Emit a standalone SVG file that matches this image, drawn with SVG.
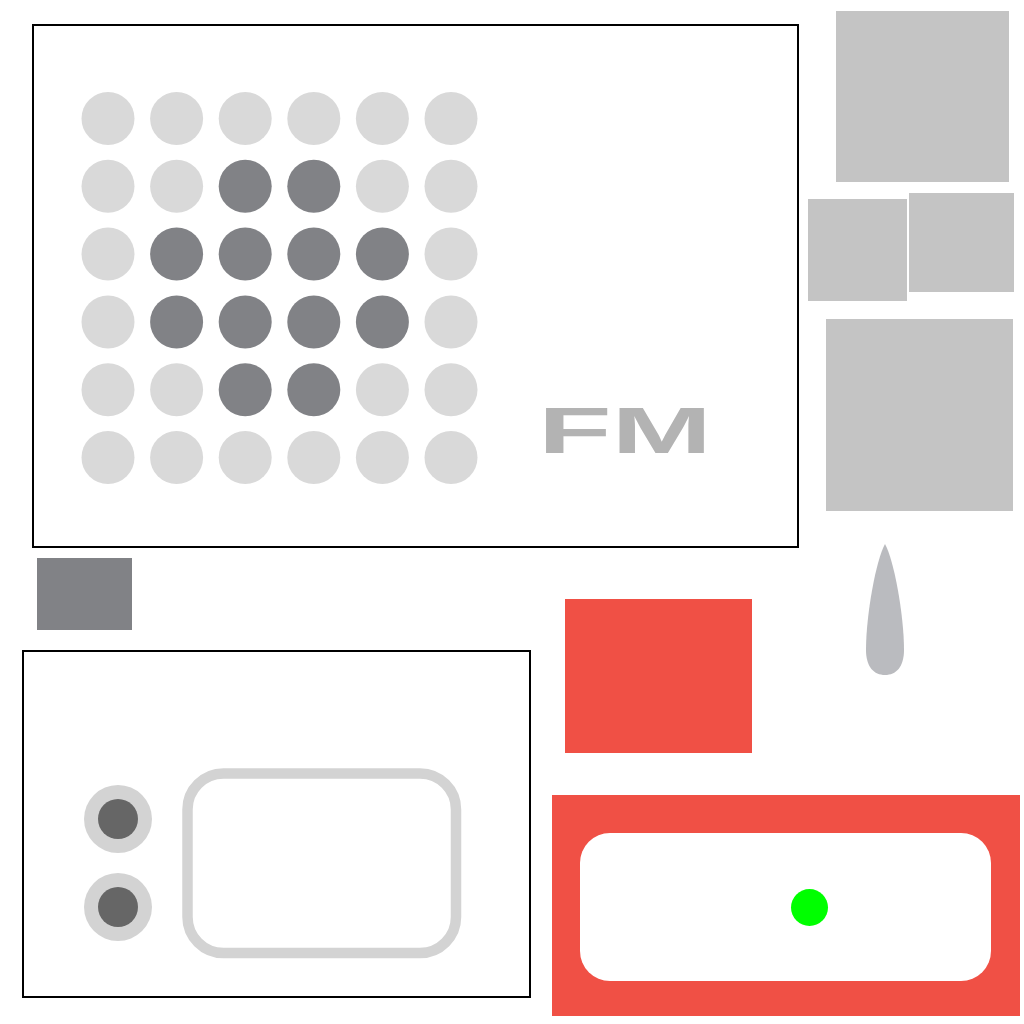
<svg xmlns="http://www.w3.org/2000/svg" width="1024" height="1024" viewBox="0 0 1024 1024">
<style>
.frame{fill:#fff;stroke:#000;stroke-width:2}
.lt{fill:#d9d9d9}
.dk{fill:#818286}
.pad{fill:#c4c4c4}
.red{fill:#f05045}
.fm{font-family:"Liberation Sans",Arial,sans-serif;font-weight:bold;fill:#b3b3b3}
</style>
<rect width="1024" height="1024" fill="#fff"/>
<g id="main-panel">
<rect class="frame" x="33" y="25" width="765" height="522"/>
<g id="dots">
<circle class="lt" cx="108" cy="118.5" r="26.5"/><circle class="lt" cx="176.6" cy="118.5" r="26.5"/><circle class="lt" cx="245.2" cy="118.5" r="26.5"/><circle class="lt" cx="313.8" cy="118.5" r="26.5"/><circle class="lt" cx="382.4" cy="118.5" r="26.5"/><circle class="lt" cx="451" cy="118.5" r="26.5"/>
<circle class="lt" cx="108" cy="186.3" r="26.5"/><circle class="lt" cx="176.6" cy="186.3" r="26.5"/><circle class="dk" cx="245.2" cy="186.3" r="26.5"/><circle class="dk" cx="313.8" cy="186.3" r="26.5"/><circle class="lt" cx="382.4" cy="186.3" r="26.5"/><circle class="lt" cx="451" cy="186.3" r="26.5"/>
<circle class="lt" cx="108" cy="254.1" r="26.5"/><circle class="dk" cx="176.6" cy="254.1" r="26.5"/><circle class="dk" cx="245.2" cy="254.1" r="26.5"/><circle class="dk" cx="313.8" cy="254.1" r="26.5"/><circle class="dk" cx="382.4" cy="254.1" r="26.5"/><circle class="lt" cx="451" cy="254.1" r="26.5"/>
<circle class="lt" cx="108" cy="321.9" r="26.5"/><circle class="dk" cx="176.6" cy="321.9" r="26.5"/><circle class="dk" cx="245.2" cy="321.9" r="26.5"/><circle class="dk" cx="313.8" cy="321.9" r="26.5"/><circle class="dk" cx="382.4" cy="321.9" r="26.5"/><circle class="lt" cx="451" cy="321.9" r="26.5"/>
<circle class="lt" cx="108" cy="389.7" r="26.5"/><circle class="lt" cx="176.6" cy="389.7" r="26.5"/><circle class="dk" cx="245.2" cy="389.7" r="26.5"/><circle class="dk" cx="313.8" cy="389.7" r="26.5"/><circle class="lt" cx="382.4" cy="389.7" r="26.5"/><circle class="lt" cx="451" cy="389.7" r="26.5"/>
<circle class="lt" cx="108" cy="457.5" r="26.5"/><circle class="lt" cx="176.6" cy="457.5" r="26.5"/><circle class="lt" cx="245.2" cy="457.5" r="26.5"/><circle class="lt" cx="313.8" cy="457.5" r="26.5"/><circle class="lt" cx="382.4" cy="457.5" r="26.5"/><circle class="lt" cx="451" cy="457.5" r="26.5"/>
</g>
<text class="fm" x="538" y="453" font-size="64" textLength="174" lengthAdjust="spacingAndGlyphs">FM</text>
</g>
<g id="grey-pads">
<rect class="pad" x="836" y="11" width="173" height="171"/>
<rect class="pad" x="808" y="199" width="99" height="102"/>
<rect class="pad" x="909" y="193" width="105" height="99"/>
<rect class="pad" x="826" y="319" width="187" height="192"/>
</g>
<g id="teardrop">
<path d="M885,544 C894,560 904,615 904,650 C904,667 896,675 885,675 C874,675 866,667 866,650 C866,615 876,560 885,544 Z" fill="#babbbf"/>
</g>
<rect id="dark-swatch" x="37" y="558" width="95" height="72" fill="#818286"/>
<g id="lower-panel">
<rect class="frame" x="23" y="651" width="507" height="346"/>
<circle cx="118" cy="819" r="34" fill="#d3d3d3"/>
<circle cx="118" cy="819" r="20" fill="#666"/>
<circle cx="118" cy="907" r="34" fill="#d3d3d3"/>
<circle cx="118" cy="907" r="20" fill="#666"/>
<rect x="187.5" y="773.5" width="268.5" height="179.5" rx="36" fill="none" stroke="#d3d3d3" stroke-width="10.5"/>
</g>
<rect id="red-block" class="red" x="565" y="599" width="187" height="154"/>
<g id="red-panel">
<rect class="red" x="552" y="795" width="468" height="221"/>
<rect x="580" y="833" width="411" height="148" rx="30" fill="#fff"/>
<circle cx="809.5" cy="907.5" r="18.5" fill="#00ff00"/>
</g>
</svg>
